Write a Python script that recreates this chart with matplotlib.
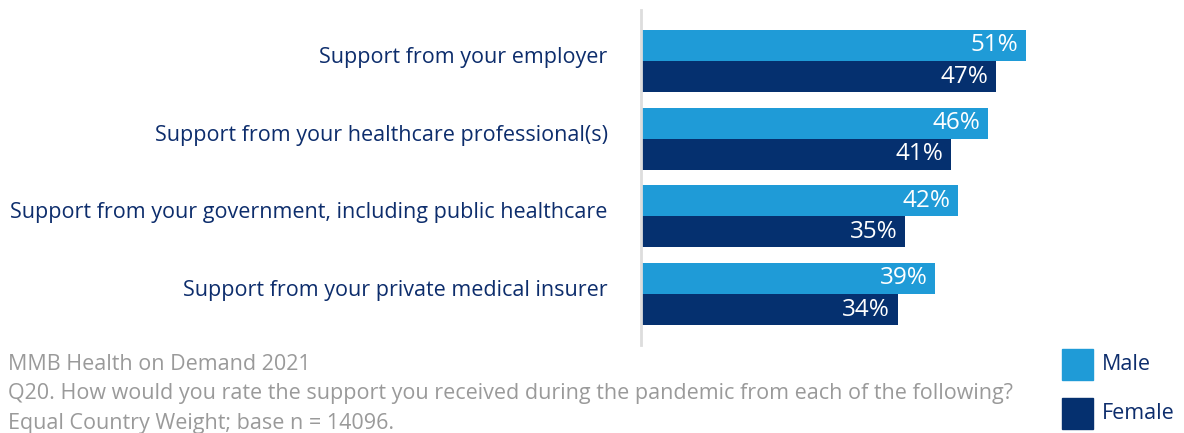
import matplotlib.pyplot as plt
import matplotlib.transforms as mtransforms
from matplotlib.patches import Rectangle
import numpy as np

plt.rcParams['font.family'] = ['Open Sans', 'DejaVu Sans']

categories = [
    'Support from your employer',
    'Support from your healthcare professional(s)',
    'Support from your government, including public healthcare',
    'Support from your private medical insurer',
]
male = [51, 46, 42, 39]
female = [47, 41, 35, 34]
series_names = ['Male', 'Female']

MALE_C = '#1f9bd7'
FEMALE_C = '#05306f'
TEXT_C = '#0d2d6c'
NOTE_C = '#9a9a9a'

W, H = 1184, 433
fig = plt.figure(figsize=(W / 100, H / 100), dpi=100)
ax = fig.add_axes([641 / W, 1 - 345 / H, 499 / W, 335 / H])

y = np.arange(len(categories))
bh = 0.4
b1 = ax.barh(y - bh / 2, male, height=bh, color=MALE_C)
b2 = ax.barh(y + bh / 2, female, height=bh, color=FEMALE_C)

ax.set_xlim(0, 499 / 7.55)
ax.set_ylim(3.656, -0.656)

for bars, vals in ((b1, male), (b2, female)):
    for rect, v in zip(bars, vals):
        ax.text(v - 1.0, rect.get_y() + rect.get_height() / 2, f'{v}%',
                ha='right', va='center', color='white', fontsize=17.5)

ax.set_yticks(y)
ax.set_yticklabels(categories, fontsize=15.5, color=TEXT_C)
ax.tick_params(axis='y', length=0, pad=24)
# labels sit a little above the group centre
shift = mtransforms.ScaledTranslation(0, 6 / 100, fig.dpi_scale_trans)
for lbl in ax.get_yticklabels():
    lbl.set_transform(lbl.get_transform() + shift)
ax.set_xticks([])
for s in ('top', 'right', 'bottom'):
    ax.spines[s].set_visible(False)
ax.spines['left'].set_color('#dddddd')
ax.spines['left'].set_linewidth(2)

notes = [
    'MMB Health on Demand 2021',
    'Q20. How would you rate the support you received during the pandemic from each of the following?',
    'Equal Country Weight; base n = 14096.',
]
for i, line in enumerate(notes):
    fig.text(8 / W, 1 - (364 + 30 * i) / H, line, fontsize=15.5, color=NOTE_C,
             ha='left', va='center')

# legend
for i, (name, col) in enumerate(zip(series_names, [MALE_C, FEMALE_C])):
    top = 349 + 49 * i
    fig.add_artist(Rectangle((1062 / W, 1 - (top + 31) / H), 31 / W, 31 / H,
                             transform=fig.transFigure, color=col))
    fig.text(1102 / W, 1 - (top + 15.5) / H, name, fontsize=15.5,
             color=TEXT_C, ha='left', va='center')

fig.savefig('out.png', dpi=100)
